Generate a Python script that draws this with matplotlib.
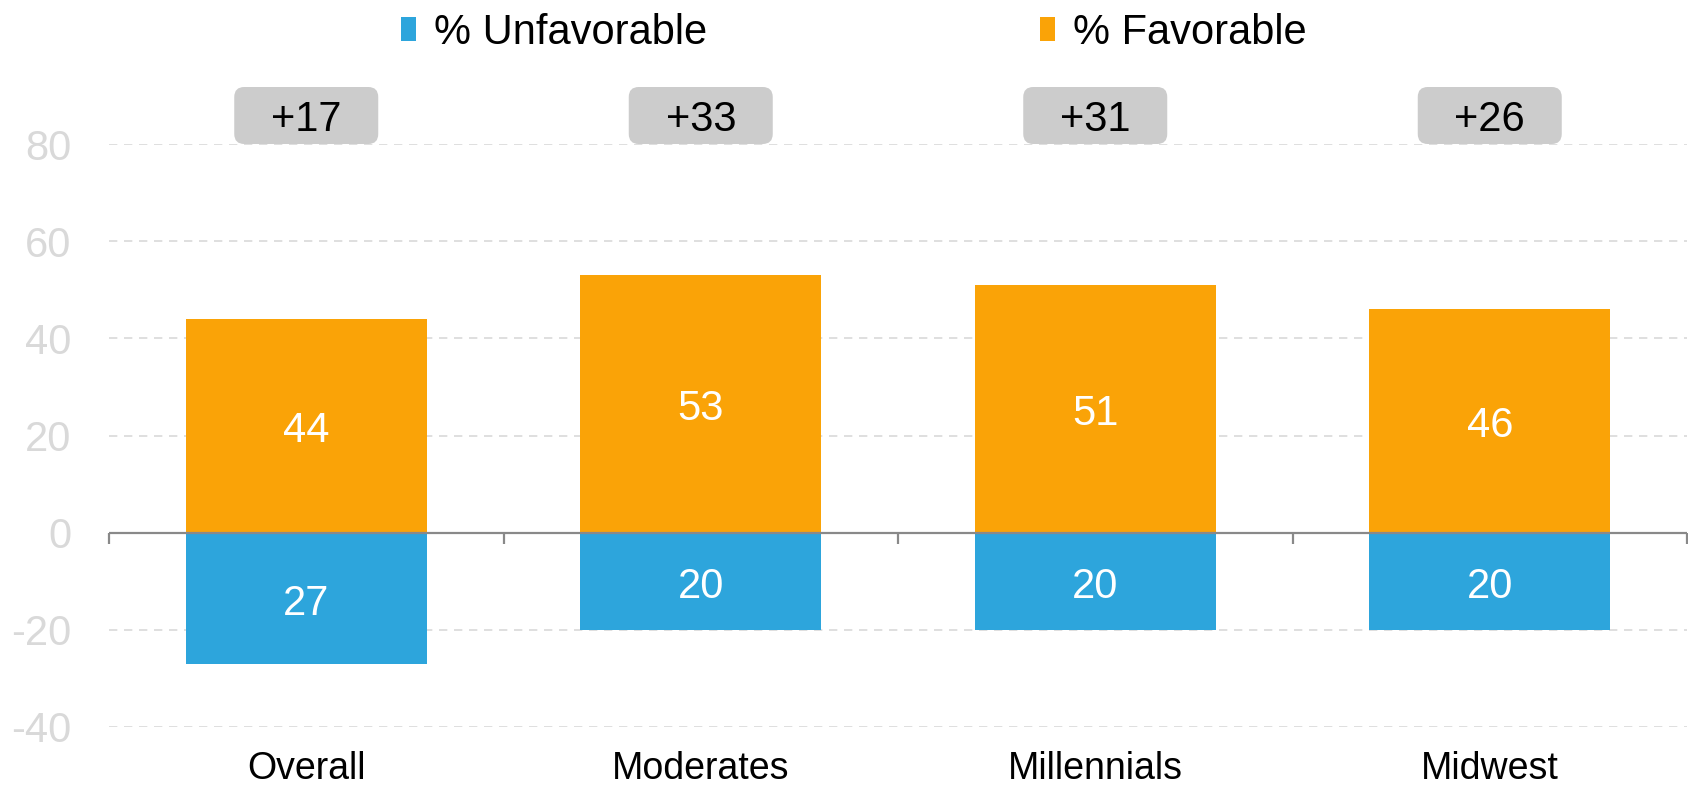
import matplotlib
matplotlib.use("Agg")
import matplotlib.pyplot as plt
from matplotlib.patches import Patch, FancyBboxPatch
import numpy as np

plt.rcParams['font.family'] = ['Liberation Sans', 'DejaVu Sans']
plt.rcParams['axes.unicode_minus'] = False

categories = ['Overall', 'Moderates', 'Millennials', 'Midwest']
favorable = [44, 53, 51, 46]
unfavorable = [27, 20, 20, 20]
net_labels = ['+17', '+33', '+31', '+26']
y_ticks = [-40, -20, 0, 20, 40, 60, 80]

ORANGE = '#FAA307'
BLUE = '#2DA5DC'
GRID = '#D9D9D9'
AXIS = '#898989'

W, H = 1688, 787
fig = plt.figure(figsize=(W / 100, H / 100), dpi=100)
left, right, bottom, top = 109, 1687, 727, 144
ax = fig.add_axes([left / W, 1 - bottom / H, (right - left) / W, (bottom - top) / H])

x = np.arange(len(categories))
bw = 0.61
ax.bar(x, favorable, width=bw, color=ORANGE, zorder=2)
ax.bar(x, [-u for u in unfavorable], width=bw, color=BLUE, zorder=2)

ax.set_xlim(-0.5, len(categories) - 0.5)
ax.set_ylim(-40, 80)
ax.set_yticks(y_ticks)
ax.yaxis.grid(True, linestyle=(0, (5, 4)), color=GRID, linewidth=1.2)
ax.set_axisbelow(True)
for s in ax.spines.values():
    s.set_visible(False)

ax.tick_params(axis='y', length=0, pad=27, labelsize=30, labelcolor=GRID)
ax.set_xticks(x)
ax.set_xticklabels(categories)
ax.tick_params(axis='x', length=0, pad=17, labelsize=27, labelcolor='black')

# zero line and category boundary ticks
ax.axhline(0, color=AXIS, linewidth=1.6, zorder=4)
ax.vlines(np.arange(len(categories) + 1) - 0.5, 0, -2.4, color=AXIS,
          linewidth=1.6, zorder=4, clip_on=False)

# value labels
for i, (f, u) in enumerate(zip(favorable, unfavorable)):
    ax.annotate(str(f), (i, f / 2), xytext=(0, -4), textcoords='offset points',
                ha='center', va='center', color='white', fontsize=30, zorder=5)
    ax.annotate(str(u), (i, -u / 2), xytext=(0, -4), textcoords='offset points',
                ha='center', va='center', color='white', fontsize=30, zorder=5)

# net labels in rounded grey boxes
px_x = (right - left) / len(categories)
px_y = (bottom - top) / 120.0
box_w = 144 / px_x
box_h = 57 / px_y
r = 10 / px_x
aspect = px_x / px_y
for i, lab in enumerate(net_labels):
    p = FancyBboxPatch((i - box_w / 2, 80), box_w, box_h,
                       boxstyle=f"round,pad=0,rounding_size={r}",
                       mutation_aspect=aspect, facecolor='#CCCCCC',
                       edgecolor='none', clip_on=False, zorder=3)
    ax.add_patch(p)
    ax.annotate(lab, (i, 80 + box_h / 2), xytext=(0, -3.5), textcoords='offset points',
                ha='center', va='center', fontsize=30, color='black',
                annotation_clip=False, zorder=5)

handles = [Patch(facecolor=BLUE, edgecolor='none', label='% Unfavorable'),
           Patch(facecolor=ORANGE, edgecolor='none', label='% Favorable')]
fig.legend(handles=handles, loc='center', bbox_to_anchor=(854 / W, 1 - 33 / H),
           ncol=2, frameon=False, fontsize=30, handlelength=0.36, handleheight=0.5,
           handletextpad=0.42, columnspacing=8.0, borderpad=0, borderaxespad=0)

fig.savefig('out.png', dpi=100)
